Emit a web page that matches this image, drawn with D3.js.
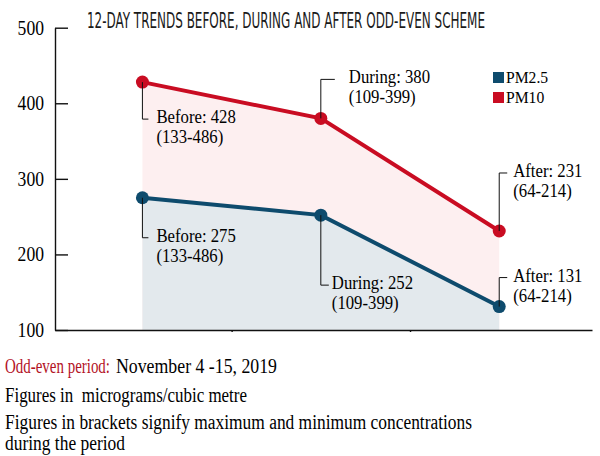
<!DOCTYPE html>
<html>
<head>
<meta charset="utf-8">
<script src="https://cdn.jsdelivr.net/npm/d3@7"></script>
<style>
    body { margin: 0; background: #fff; }
    text { white-space: pre; }
</style>
</head>
<body>
<script>
// data
const periods = ["Before", "During", "After"];
const pm25 = [275, 252, 131];
const pm10 = [428, 380, 231];
const pm25Range = ["133-486", "109-399", "64-214"];
const pm10Range = ["133-486", "109-399", "64-214"];
const yTicks = [100, 200, 300, 400, 500];
const seriesNames = ["PM2.5", "PM10"];
const title = "12-DAY TRENDS BEFORE, DURING AND AFTER ODD-EVEN SCHEME";
const notes = [
    "Figures in  micrograms/cubic metre",
    "Figures in brackets signify maximum and minimum concentrations",
    "during the period"
];

const wb = 600;
const hb = 456;
const red = "#c90c22";
const blue = "#0e4b6d";
const serif = "'Liberation Serif', 'DejaVu Serif', serif";

// squeeze text horizontally to mimic the condensed newspaper face
const squeeze = (sel, k) => sel.each(function () {
    const w = this.getComputedTextLength();
    d3.select(this)
        .attr("textLength", w * k)
        .attr("lengthAdjust", "spacingAndGlyphs");
});

const svg = d3.select("body")
    .append("svg")
    .attr("width", wb)
    .attr("height", hb);

const xax = d3.scaleLinear()
    .domain([-0.49, 2.52])
    .range([55, 592]);
const yax = d3.scaleLinear()
    .domain([100, 500])
    .range([330, 27.7]);

// shaded areas
const area = d3.area()
    .x((d, i) => xax(i))
    .y0(yax(100))
    .y1(d => yax(d));
svg.append("path")
    .attr("d", area(pm10))
    .attr("fill", "#fdeff0");
svg.append("path")
    .attr("d", area(pm25))
    .attr("fill", "#e3e9ed");

// axes
const yAxis = svg.append("g")
    .attr("transform", `translate(${xax.range()[0]}, 0)`)
    .call(d3.axisLeft(yax)
        .tickValues(yTicks)
        .tickSizeInner(-13)
        .tickSizeOuter(0)
        .tickPadding(11));
yAxis.selectAll("line, path").attr("stroke", "#111").attr("stroke-width", 1.4);
yAxis.selectAll("text")
    .attr("font-family", serif)
    .attr("font-size", 20)
    .attr("fill", "#000")
    .call(squeeze, 0.88);

const xAxis = svg.append("g")
    .attr("transform", `translate(0, ${yax(100)})`)
    .call(d3.axisBottom(xax)
        .tickValues([0.5, 1.5])
        .tickSize(2)
        .tickSizeOuter(0)
        .tickFormat(""));
xAxis.selectAll("line, path").attr("stroke", "#111").attr("stroke-width", 1.4);

// lines and points
const line = d3.line()
    .x((d, i) => xax(i))
    .y(d => yax(d));

const series = [
    { values: pm10, ranges: pm10Range, colour: red },
    { values: pm25, ranges: pm25Range, colour: blue }
];

series.forEach(s => {
    svg.append("path")
        .attr("d", line(s.values))
        .attr("fill", "none")
        .attr("stroke", s.colour)
        .attr("stroke-width", 4);
    svg.append("g")
        .selectAll("circle")
        .data(s.values)
        .join("circle")
        .attr("cx", (d, i) => xax(i))
        .attr("cy", d => yax(d))
        .attr("r", 6.5)
        .attr("fill", s.colour);
});

// callouts: leader end offset (ly), leader arm (hx), text offset (tx)
const callouts = [
    [{ ly: 37, hx: 6, tx: 14 }, { ly: -39, hx: 14, tx: 28 }, { ly: -58, hx: 8, tx: 14 }],
    [{ ly: 40, hx: 6, tx: 14 }, { ly: 70, hx: 8, tx: 11 }, { ly: -29, hx: 8, tx: 14 }]
];

series.forEach((s, si) => {
    s.values.forEach((v, i) => {
        const c = callouts[si][i];
        const px = xax(i);
        const py = yax(v);
        const ly = py + c.ly;
        svg.append("path")
            .attr("d", `M${px},${py}V${ly}H${px + c.hx}`)
            .attr("fill", "none")
            .attr("stroke", "#111")
            .attr("stroke-width", 1);
        [`${periods[i]}: ${v}`, `(${s.ranges[i]})`].forEach((str, k) => {
            svg.append("text")
                .attr("x", px + c.tx)
                .attr("y", ly + 4 + k * 20)
                .attr("font-family", serif)
                .attr("font-size", 19)
                .attr("fill", "#000")
                .text(str)
                .call(squeeze, 0.88);
        });
    });
});

// legend
const legend = svg.append("g")
    .attr("transform", "translate(493, 72)");
legend.selectAll("rect")
    .data(seriesNames)
    .join("rect")
    .attr("x", 0)
    .attr("y", (d, i) => i * 20)
    .attr("width", 11)
    .attr("height", 11)
    .attr("fill", (d, i) => i ? red : blue);
legend.selectAll("text")
    .data(seriesNames)
    .join("text")
    .attr("x", 13)
    .attr("y", (d, i) => i * 20 + 11)
    .attr("font-family", serif)
    .attr("font-size", 17)
    .attr("fill", "#000")
    .text(d => d)
    .call(squeeze, 0.92);

// title
svg.append("text")
    .attr("x", 87)
    .attr("y", 28)
    .attr("font-family", "'Liberation Sans Narrow', 'DejaVu Sans Condensed', 'Liberation Sans', sans-serif")
    .attr("font-size", 22)
    .attr("fill", "#1a1a1a")
    .attr("textLength", 398)
    .attr("lengthAdjust", "spacingAndGlyphs")
    .text(title);

// footnotes
const footSize = 20;
svg.append("text")
    .attr("x", 5)
    .attr("y", 373)
    .attr("font-family", serif)
    .attr("font-size", footSize)
    .attr("fill", "#b3121f")
    .attr("textLength", 105)
    .attr("lengthAdjust", "spacingAndGlyphs")
    .text("Odd-even period:");
svg.append("text")
    .attr("x", 116)
    .attr("y", 373)
    .attr("font-family", serif)
    .attr("font-size", footSize)
    .attr("fill", "#000")
    .attr("textLength", 161)
    .attr("lengthAdjust", "spacingAndGlyphs")
    .text("November 4 -15, 2019");

const noteY = [402, 429, 450];
const noteW = [242, 467, 120];
svg.selectAll("text.note")
    .data(notes)
    .join("text")
    .attr("class", "note")
    .attr("x", 5)
    .attr("y", (d, i) => noteY[i])
    .attr("font-family", serif)
    .attr("font-size", footSize)
    .attr("fill", "#000")
    .attr("textLength", (d, i) => noteW[i])
    .attr("lengthAdjust", "spacingAndGlyphs")
    .text(d => d);
</script>
</body>
</html>
